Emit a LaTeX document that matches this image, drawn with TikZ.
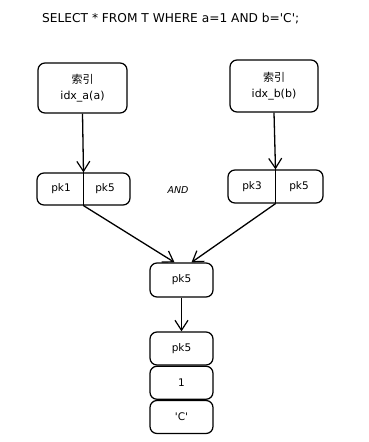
\documentclass[tikz,border=0pt]{standalone}
\usepackage{fontspec}
\setmainfont{DejaVu Sans}
\newfontfamily\cjk{Noto Sans CJK SC}
\usetikzlibrary{arrows.meta,positioning}
\begin{document}
\begin{tikzpicture}[x=1pt,y=-1pt,
  box/.style={draw,line width=1.25pt,rounded corners=7pt,inner sep=0pt},
  lbl/.style={font=\fontsize{10.5}{12}\selectfont,inner sep=0pt},
  conn/.style={line width=1.3pt,-{Straight Barb[length=10pt,width=13pt,line width=1.2pt]}}
]
\useasboundingbox (0,0) rectangle (368,442);
\node[font=\fontsize{12.2}{14}\selectfont,inner sep=0pt,anchor=west] (title) at (42,19) {SELECT * FROM T WHERE a=1 AND b=\textquotesingle C\textquotesingle;};

% index boxes
\node[box,minimum width=89pt,minimum height=50pt,align=center,font=\fontsize{11}{16}\selectfont] (ia) at (82.5,88) {{\cjk 索引}\\idx\_a(a)};
\node[box,minimum width=88pt,minimum height=52pt,align=center,font=\fontsize{11}{16}\selectfont] (ib) at (274,86) {{\cjk 索引}\\idx\_b(b)};

% pk boxes
\node[box,minimum width=93pt,minimum height=32pt] (pa) at (83.5,189) {};
\draw[line width=1.25pt] (pa.north) -- (pa.south);
\node[lbl] (pa1) at (61,189) {pk1};
\node[lbl] (pa2) at (105,189) {pk5};

\node[box,minimum width=95pt,minimum height=33pt] (pb) at (275.5,186.5) {};
\draw[line width=1.25pt] (pb.north) -- (pb.south);
\node[lbl] (pb1) at (252,187) {pk3};
\node[lbl] (pb2) at (299,187) {pk5};

\node[lbl,font=\fontsize{9.5}{11}\selectfont\itshape] (and) at (178,190) {AND};

% middle
\node[box,minimum width=63pt,minimum height=34pt] (mid) at (181.5,280) {};
\node[lbl] (midt) at (mid.center) {pk5};

% stack
\node[box,minimum width=63pt,minimum height=33pt] (s1) at (181.5,348.5) {};
\node[lbl] at (s1.center) {pk5};
\node[box,minimum width=63pt,minimum height=33pt,below=0pt of s1] (s2) {};
\node[lbl] at (s2.center) {1};
\node[box,minimum width=63pt,minimum height=33pt,below=0pt of s2] (s3) {};
\node[lbl] at (s3.center) {\textquotesingle C\textquotesingle};

% connectors
\draw[conn] (ia.south) -- (pa.north);
\draw[conn] (ib.south) -- (pb.north);
\draw[conn] (pa.south) -- ([xshift=-7pt]mid.north);
\draw[conn] (pb.south) -- ([xshift=10pt]mid.north);
\draw[conn] (mid.south) -- (s1.north);
\end{tikzpicture}
\end{document}
